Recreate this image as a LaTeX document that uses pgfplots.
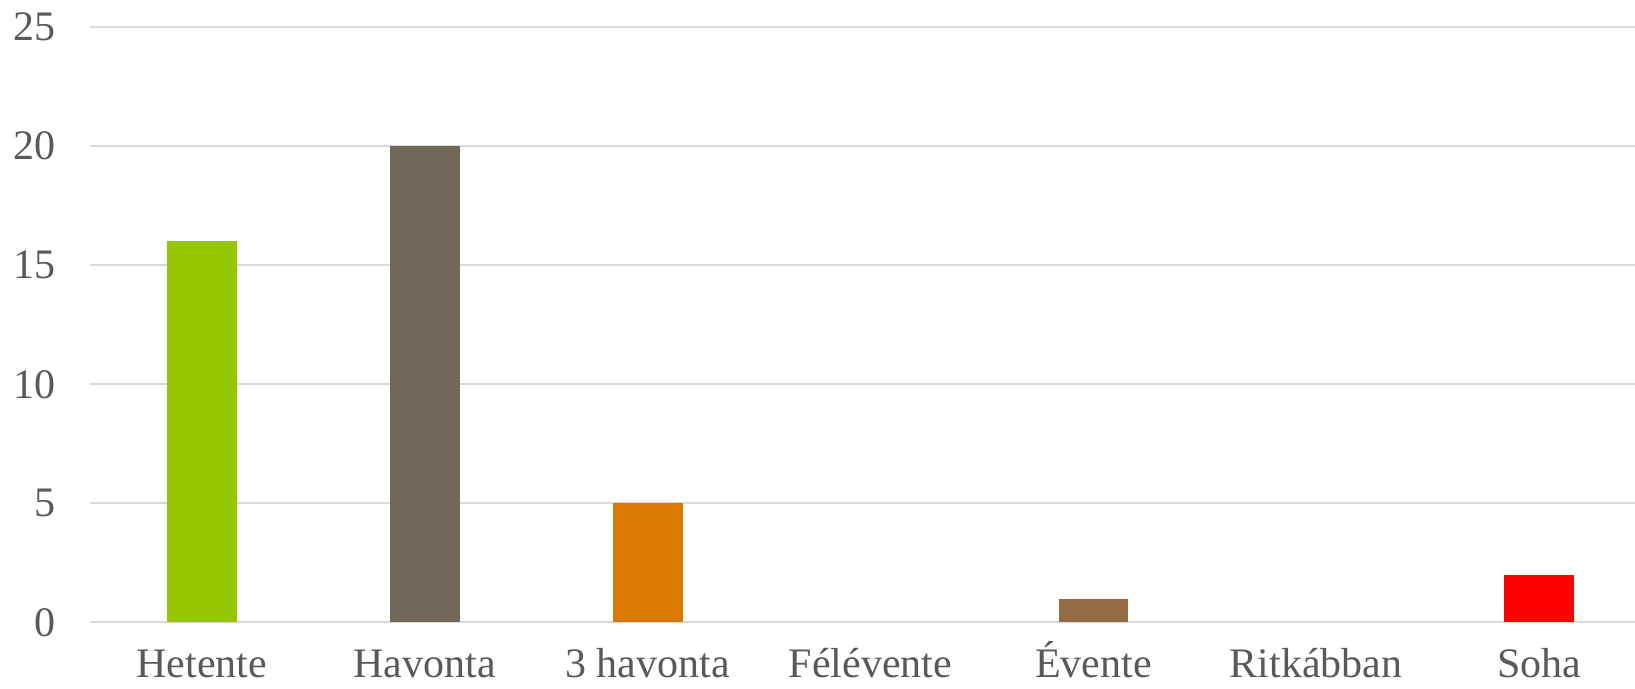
\documentclass[border=0pt]{standalone}
\usepackage{fontspec}
\setmainfont{Liberation Serif}
\usepackage{pgfplots}
\pgfplotsset{compat=1.18}
\usetikzlibrary{calc}
\definecolor{cgreen}{HTML}{94C600}
\definecolor{cgray}{HTML}{71685A}
\definecolor{corange}{HTML}{D87B00}
\definecolor{cbrown}{HTML}{956B43}
\definecolor{cred}{HTML}{FF0000}
\definecolor{ctext}{HTML}{595959}
\definecolor{cgrid}{HTML}{D9D9D9}
\begin{document}
\begin{tikzpicture}
\begin{axis}[name=ax,
  scale only axis, width=772.3pt, height=297.75pt,
  ybar, bar width=0.313, bar shift=0pt,
  xmin=-0.5, xmax=6.43, ymin=0, ymax=25,
  xtick={0,...,6},
  xticklabels={Hetente,Havonta,3 havonta,Félévente,Évente,Ritkábban,Soha},
  ytick={0,5,...,25},
  axis line style={draw=none}, major tick length=0pt,
  ymajorgrids, grid style={cgrid, line width=1pt},
  tick label style={font=\fontsize{21}{24}\selectfont, text=ctext},
  /pgf/number format/assume math mode=true,
  yticklabel style={anchor=east, xshift=-13.7pt},
  xticklabel style={anchor=base, yshift=-27.5pt},
  clip=false]
\addplot[fill=cgreen, draw=none] coordinates {(0,16)};
\addplot[fill=cgray, draw=none] coordinates {(1,20)};
\addplot[fill=corange, draw=none] coordinates {(2,5)};
\addplot[fill=cbrown, draw=none] coordinates {(4,1)};
\addplot[fill=cred, draw=none] coordinates {(6,2)};
\end{axis}
\pgfresetboundingbox
\path ($(ax.south west)+(-45.2pt,-33.25pt)$) rectangle ($(ax.north east)+(0,13.5pt)$);
\end{tikzpicture}
\end{document}
